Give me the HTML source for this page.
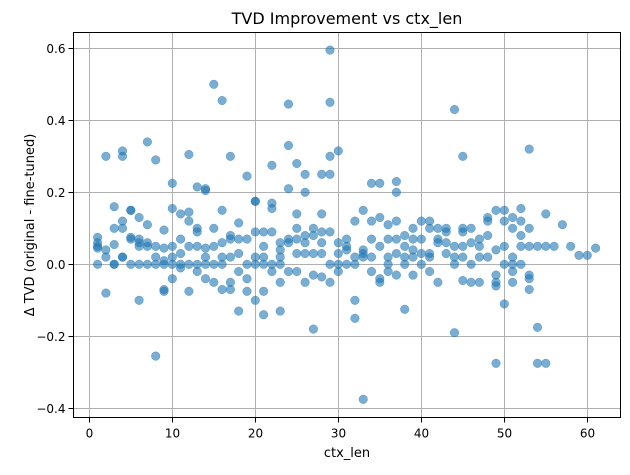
<!DOCTYPE html>
<html><head><meta charset="utf-8"><style>
body{margin:0;background:#fff;font-family:"Liberation Sans","DejaVu Sans",sans-serif}
svg text{font-family:"DejaVu Sans","Liberation Sans",sans-serif}
</style></head><body>
<svg id="chart" width="630" height="470" xmlns="http://www.w3.org/2000/svg">
<text x="347" y="24" text-anchor="middle" font-size="16" fill="#000">TVD Improvement vs ctx_len</text>
<g id="grid"></g>
<g id="points"></g>
<rect x="73.5" y="32.5" width="547" height="385" fill="none" stroke="#000" stroke-width="1"/>
<g id="xticks"></g>
<g id="yticks"></g>
<text x="347" y="457" text-anchor="middle" font-size="13">ctx_len</text>
<text x="0" y="0" transform="translate(34,225) rotate(-90)" text-anchor="middle" font-size="13">Δ TVD (original - fine-tuned)</text>
</svg>
<script>
const xTicks=[0,10,20,30,40,50,60];
const yTicks=[0.6,0.4,0.2,0.0,-0.2,-0.4];
const yTickLabels=["0.6","0.4","0.2","0.0","−0.2","−0.4"];
const ctxLen=[
1,1,1,1,1, 2,2,2,2, 3,3,3,3,3, 4,4,4,4,4,4, 5,5,5,5,5, 6,6,6,6,6,6, 7,7,7,7,7, 8,8,8,8,8,
9,9,9,9,9,9, 10,10,10,10,10,10, 11,11,11,11,11, 12,12,12,12,12,12, 13,13,13,13,13,13,
14,14,14,14,14,14, 15,15,15,15,15, 16,16,16,16,16,16, 17,17,17,17,17,17, 18,18,18,18,18,
19,19,19,19,19, 20,20,20,20,20,20, 21,21,21,21,21,21, 22,22,22,22,22,22, 23,23,23,23,23,23,
24,24,24,24,24,24, 25,25,25,25,25,25, 26,26,26,26,26,26, 27,27,27,27,27, 28,28,28,28,28,28,
29,29,29,29,29,29,29, 30,30,30,30,30, 31,31,31,31, 32,32,32,32,32, 33,33,33,33,33,
34,34,34,34,34, 35,35,35,35,35, 36,36,36,36,36, 37,37,37,37,37,37, 38,38,38,38,38,
39,39,39,39,39, 40,40,40,40, 41,41,41,41,41, 42,42,42,42, 43,43,43,43, 44,44,44,44,44,
45,45,45,45,45,45, 46,46,46,46, 47,47,47,47, 48,48,48,48, 49,49,49,49,49,49,
50,50,50,50,50, 51,51,51,51,51,51, 52,52,52,52,52, 53,53,53,53,53,53, 54,54,54, 55,55,55,
56,57,58,59,60,61];
const deltaTvd=[
0.05,0.075,0.06,0.045,0.0, 0.3,-0.08,0.04,0.02, 0.16,0.1,0.055,0.0,0.0, 0.315,0.3,0.12,0.1,0.02,0.02,
0.15,0.15,0.075,0.07,0.0, 0.06,-0.1,0.13,0.07,0.05,0.0, 0.34,0.11,0.06,0.0,0.05, 0.29,-0.255,0.05,0.0,0.02,
0.095,0.045,0.01,-0.07,-0.075,0.0, 0.225,0.155,0.05,0.0,-0.04,0.02, 0.14,0.07,0.03,0.0,-0.01,
0.305,0.145,0.12,0.05,0.0,-0.075, 0.215,0.1,0.09,0.05,0.0,-0.02,
0.21,0.205,0.045,0.02,0.0,-0.04, 0.5,0.1,0.05,0.0,-0.05, 0.455,0.15,0.06,0.02,0.0,-0.07,
0.3,0.08,0.07,0.02,-0.05,-0.07, 0.115,0.07,0.03,-0.02,-0.13,
0.245,0.07,0.0,-0.04,-0.075, 0.175,0.175,0.09,0.02,0.0,-0.1, 0.09,0.05,0.02,0.0,-0.075,-0.14,
0.275,0.17,0.155,0.09,0.0,-0.02, 0.06,0.04,0.02,0.0,-0.05,-0.13,
0.445,0.33,0.21,0.07,0.06,-0.02, 0.28,0.14,0.1,0.07,0.03,-0.02, 0.25,0.2,0.08,0.06,0.03,-0.05,
0.1,0.08,0.03,-0.03,-0.18, 0.25,0.14,0.09,0.06,0.03,-0.035,
0.595,0.45,0.3,0.25,0.09,0.0,-0.05, 0.315,0.06,0.03,0.0,-0.02, 0.07,0.05,0.04,0.0,
0.12,0.02,0.0,-0.1,-0.15, 0.15,0.04,0.03,0.02,-0.375,
0.225,0.12,0.07,0.02,-0.02, 0.225,0.13,0.05,-0.04,-0.05, 0.11,0.07,0.02,0.0,-0.02,
0.23,0.2,0.12,0.07,0.03,-0.03, 0.08,0.05,0.02,0.0,-0.125,
0.1,0.07,0.04,0.02,-0.03, 0.12,0.07,0.03,0.0, 0.12,0.1,0.03,0.02,-0.02, 0.1,0.07,0.06,-0.05,
0.1,0.09,0.06,0.03, 0.43,0.05,0.02,0.0,-0.19,
0.3,0.1,0.09,0.05,0.02,-0.045, 0.1,0.06,0.0,-0.05, 0.07,0.05,0.02,-0.05, 0.13,0.12,0.08,0.02,
0.15,0.04,-0.03,-0.05,-0.06,-0.275,
0.15,0.12,0.05,0.0,-0.11, 0.13,0.1,0.02,0.0,-0.02,-0.05, 0.155,0.12,0.08,0.05,0.0,
0.32,0.1,0.05,-0.03,-0.04,-0.07, 0.05,-0.175,-0.275, 0.14,0.05,-0.275,
0.05,0.11,0.05,0.025,0.025,0.045];

const NS="http://www.w3.org/2000/svg";
const L=73.5,R=620.5,T=32.5,B=417.5;
function xs(v){return 89.3+v*8.3;}
function ys(v){return 264.3-v*360;}
function mk(tag,attrs,parent){const e=document.createElementNS(NS,tag);for(const k in attrs)e.setAttribute(k,attrs[k]);parent.appendChild(e);return e;}
const grid=document.getElementById('grid'),xt=document.getElementById('xticks'),yt=document.getElementById('yticks'),pts=document.getElementById('points');
xTicks.forEach(t=>{
  const x=Math.round(xs(t))+0.5;
  const g=mk('line',{x1:x,x2:x,y1:T,y2:B,stroke:'#b0b0b0','stroke-width':1},grid);
  
  
  const tk=mk('line',{x1:x,x2:x,y1:B,y2:B+5,stroke:'#000'},xt);
  
  
  const lb=mk('text',{x:x,y:B+20,'text-anchor':'middle','font-size':12},xt);
  lb.textContent=t;
  
  
});
yTicks.forEach((t,i)=>{
  const y=Math.round(ys(t))+0.5;
  const g=mk('line',{x1:L,x2:R,y1:y,y2:y,stroke:'#b0b0b0','stroke-width':1},grid);
  
  
  const tk=mk('line',{x1:L-5,x2:L,y1:y,y2:y,stroke:'#000'},yt);
  
  
  const lb=mk('text',{x:L-8,y:y+4.5,'text-anchor':'end','font-size':12},yt);
  lb.textContent=yTickLabels[i];
  
  
});
ctxLen.forEach((c,i)=>{
  const p=mk('circle',{cx:xs(c),cy:ys(deltaTvd[i]),r:4.3,fill:'#1f77b4','fill-opacity':0.6,stroke:'#1f77b4','stroke-opacity':0.6,'stroke-width':0.5},pts);
  
  
});
</script>
</body></html>
